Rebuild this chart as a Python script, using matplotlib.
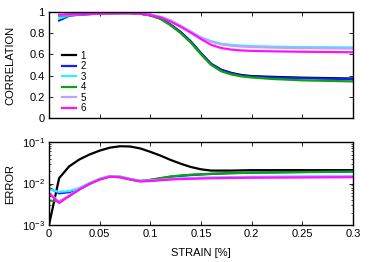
import matplotlib
matplotlib.use("Agg")
import matplotlib.pyplot as plt
from matplotlib.ticker import LogLocator, NullFormatter, MultipleLocator

plt.rcParams['font.family'] = ['Liberation Sans', 'DejaVu Sans']

labels = ["1", "2", "3", "4", "5", "6"]
colors = ["#000000", "#1020ff", "#30f0ff", "#10a010", "#c0a0ff", "#ff10ff"]

# Correlation
strain_c = [0.01, 0.02, 0.03, 0.04, 0.05, 0.06, 0.07, 0.08, 0.09, 0.10, 0.11, 0.12,
            0.13, 0.14, 0.15, 0.16, 0.17, 0.18, 0.19, 0.20, 0.22, 0.25, 0.30]
corr1 = [0.97, 0.975, 0.98, 0.982, 0.985, 0.988, 0.99, 0.99, 0.985, 0.97, 0.94, 0.88,
         0.81, 0.72, 0.61, 0.51, 0.455, 0.425, 0.405, 0.395, 0.388, 0.38, 0.372]
corr2 = [0.92, 0.965, 0.975, 0.98, 0.985, 0.988, 0.99, 0.99, 0.985, 0.97, 0.94, 0.88,
         0.81, 0.72, 0.61, 0.51, 0.452, 0.42, 0.40, 0.39, 0.382, 0.374, 0.366]
corr3 = [0.94, 0.97, 0.98, 0.982, 0.985, 0.988, 0.99, 0.99, 0.987, 0.975, 0.955, 0.92,
         0.87, 0.815, 0.76, 0.725, 0.70, 0.69, 0.683, 0.678, 0.673, 0.669, 0.666]
corr4 = [0.965, 0.972, 0.978, 0.982, 0.985, 0.988, 0.99, 0.99, 0.985, 0.968, 0.935, 0.875,
         0.80, 0.71, 0.60, 0.50, 0.44, 0.41, 0.392, 0.382, 0.368, 0.355, 0.345]
corr5 = [0.97, 0.975, 0.98, 0.982, 0.985, 0.988, 0.99, 0.99, 0.987, 0.975, 0.955, 0.92,
         0.87, 0.815, 0.76, 0.72, 0.695, 0.682, 0.674, 0.669, 0.664, 0.659, 0.655]
corr6 = [0.975, 0.978, 0.98, 0.982, 0.985, 0.988, 0.99, 0.99, 0.985, 0.97, 0.95, 0.91,
         0.86, 0.805, 0.745, 0.69, 0.66, 0.645, 0.637, 0.633, 0.629, 0.625, 0.62]

# Error
strain_e = [0.0, 0.01, 0.02, 0.03, 0.04, 0.05, 0.06, 0.07, 0.08, 0.09, 0.10, 0.11,
            0.12, 0.13, 0.14, 0.15, 0.16, 0.18, 0.20, 0.25, 0.30]
err1 = [0.001, 0.0135, 0.026, 0.038, 0.05, 0.062, 0.073, 0.079, 0.078, 0.07, 0.058, 0.047,
        0.037, 0.030, 0.025, 0.022, 0.0205, 0.0205, 0.021, 0.021, 0.021]
err2 = [0.0078, 0.0058, 0.0062, 0.0076, 0.0100, 0.0128, 0.0150, 0.0145, 0.0128, 0.0115, 0.0122, 0.0133,
        0.0145, 0.0153, 0.0160, 0.0165, 0.0170, 0.0178, 0.0183, 0.0190, 0.0195]
err3 = [0.0072, 0.0063, 0.0066, 0.0078, 0.0102, 0.0130, 0.0152, 0.0148, 0.0130, 0.0117, 0.0120, 0.0125,
        0.0130, 0.0133, 0.0136, 0.0138, 0.0140, 0.0143, 0.0145, 0.0148, 0.0150]
err4 = [0.0039, 0.0037, 0.0050, 0.0072, 0.0098, 0.0125, 0.0146, 0.0142, 0.0126, 0.0114, 0.0122, 0.0135,
        0.0148, 0.0156, 0.0163, 0.0168, 0.0172, 0.0178, 0.0182, 0.0188, 0.0193]
err5 = [0.0060, 0.0036, 0.0052, 0.0074, 0.0100, 0.0128, 0.0150, 0.0145, 0.0128, 0.0115, 0.0118, 0.0123,
        0.0128, 0.0131, 0.0134, 0.0136, 0.0138, 0.0140, 0.0142, 0.0145, 0.0147]
err6 = [0.0058, 0.0034, 0.0050, 0.0072, 0.0098, 0.0125, 0.0146, 0.0142, 0.0125, 0.0112, 0.0115, 0.0120,
        0.0125, 0.0128, 0.0130, 0.0132, 0.0134, 0.0136, 0.0138, 0.0140, 0.0142]

corrs = [corr1, corr2, corr3, corr4, corr5, corr6]
errs = [err1, err2, err3, err4, err5, err6]

fig = plt.figure(figsize=(3.74, 2.62), dpi=100)
ax1 = fig.add_axes([0.131, 0.550, 0.813, 0.404])
ax2 = fig.add_axes([0.131, 0.141, 0.813, 0.317])

fs = 8
for c, y, lab in zip(colors, corrs, labels):
    ax1.plot(strain_c, y, color=c, lw=1.6, label=lab)
for c, y in zip(colors, errs):
    ax2.plot(strain_e, y, color=c, lw=1.6)

for ax in (ax1, ax2):
    ax.set_xlim(0, 0.3)
    ax.xaxis.set_major_locator(MultipleLocator(0.05))
    ax.tick_params(direction='in', top=True, right=True, length=3, width=0.6,
                   labelsize=fs, pad=3)
    for s in ax.spines.values():
        s.set_linewidth(1.0)

ax1.set_ylim(0, 1)
ax1.set_yticks([0, 0.2, 0.4, 0.6, 0.8, 1.0])
ax1.set_yticklabels(["0", "0.2", "0.4", "0.6", "0.8", "1"])
ax1.tick_params(labelbottom=False)
ax1.set_ylabel("CORRELATION", fontsize=fs)
ax1.yaxis.set_label_coords(-0.11, 0.5)

ax2.set_yscale('log')
ax2.set_ylim(1e-3, 1e-1)
ax2.yaxis.set_major_locator(LogLocator(base=10, numticks=5))
ax2.yaxis.set_minor_locator(LogLocator(base=10, subs=range(2, 10), numticks=20))
ax2.yaxis.set_minor_formatter(NullFormatter())
ax2.tick_params(which='minor', direction='in', right=True, length=1.5, width=0.5)
ax2.set_xticks([0, 0.05, 0.1, 0.15, 0.2, 0.25, 0.3])
ax2.set_xticklabels(["0", "0.05", "0.1", "0.15", "0.2", "0.25", "0.3"])
ax2.set_ylabel("ERROR", fontsize=fs)
ax2.yaxis.set_label_coords(-0.11, 0.5)
ax2.set_xlabel("STRAIN [%]", fontsize=fs, labelpad=6)

ax1.legend(loc='upper left', bbox_to_anchor=(0.02, 0.7), frameon=False, fontsize=7,
           handlelength=1.5, handletextpad=0.4, labelspacing=0.05, borderpad=0.2)

fig.savefig("out.png", dpi=100)
